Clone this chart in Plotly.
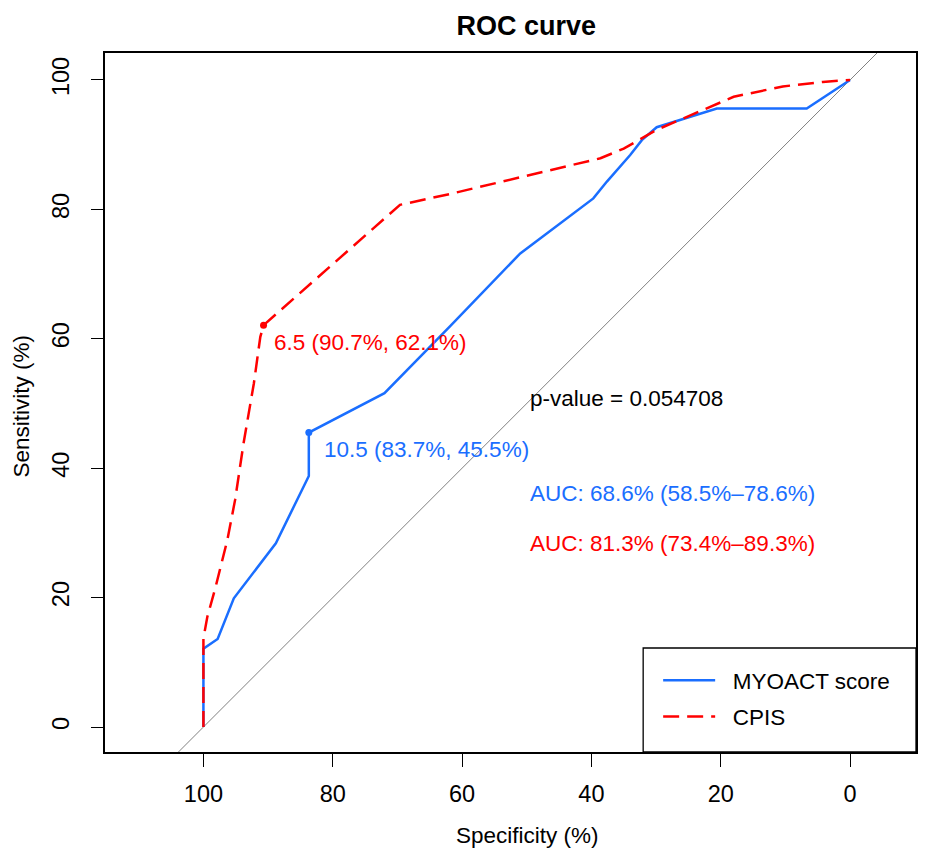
import plotly.graph_objects as go

# ---- data ----
myoact_spec = [100, 100, 97.8, 95.3, 88.8, 83.7, 83.7, 72.0, 61.8, 51.0, 39.7, 37.6, 34.0, 32.2, 29.9, 20.6, 6.7, 0]
myoact_sens = [0, 12.1, 13.6, 19.9, 28.4, 38.8, 45.5, 51.6, 62.0, 73.2, 81.7, 84.3, 88.4, 90.7, 92.7, 95.6, 95.6, 100]

cpis_spec = [100, 100, 99.4, 98.1, 96.3, 95.1, 93.8, 92.2, 91.2, 90.7, 69.6, 61.8, 38.6, 35.0, 29.9, 18.0, 10.4, 4.2, 0]
cpis_sens = [0, 13.7, 17.0, 21.7, 28.9, 35.1, 43.8, 53.1, 60.3, 62.1, 80.7, 82.4, 87.9, 89.4, 92.3, 97.4, 99.0, 99.7, 100]

myoact_thr = {"spec": 83.7, "sens": 45.5, "label": "10.5 (83.7%, 45.5%)"}
cpis_thr = {"spec": 90.7, "sens": 62.1, "label": "6.5 (90.7%, 62.1%)"}

auc_myoact = "AUC: 68.6% (58.5%–78.6%)"
auc_cpis = "AUC: 81.3% (73.4%–89.3%)"
p_value = "p-value = 0.054708"

series_names = ["MYOACT score", "CPIS"]

tick_vals = [0, 20, 40, 60, 80, 100]
tick_text = ["0", "20", "40", "60", "80", "100"]

BLUE = "#1A6EFF"
RED = "#FF0000"
FONT = "Liberation Sans, Arial, sans-serif"

# ---- geometry (pixels) ----
W, H = 936, 849
L, R, T, B = 104.5, 916, 53, 752
PW, PH = R - L, B - T


def px_x(x):
    return (x - L) / PW


def px_y(y):
    return (B - y) / PH


fig = go.Figure()

# identity line
fig.add_trace(go.Scatter(x=[120, -20], y=[-20, 120], mode="lines",
                         line=dict(color="#808080", width=1), showlegend=False, hoverinfo="skip"))

pad = "\u00a0\u00a0"
fig.add_trace(go.Scatter(x=myoact_spec, y=myoact_sens, mode="lines", name=pad + series_names[0],
                         line=dict(color=BLUE, width=2.5), legendgroup="a"))
fig.add_trace(go.Scatter(x=cpis_spec, y=cpis_sens, mode="lines", name=pad + series_names[1],
                         line=dict(color=RED, width=2.5, dash="16px,8px"), legendgroup="b"))

fig.add_trace(go.Scatter(x=[myoact_thr["spec"]], y=[myoact_thr["sens"]], mode="markers",
                         marker=dict(color=BLUE, size=7), showlegend=False))
fig.add_trace(go.Scatter(x=[cpis_thr["spec"]], y=[cpis_thr["sens"]], mode="markers",
                         marker=dict(color=RED, size=7), showlegend=False))

ann_font = 22.5
tick_font = 23.5
annotations = [
    dict(x=89.33, y=59.5, text=cpis_thr["label"], font=dict(color=RED, size=ann_font, family=FONT)),
    dict(x=81.65, y=42.86, text=myoact_thr["label"], font=dict(color=BLUE, size=ann_font, family=FONT)),
    dict(x=49.88, y=50.7, text=p_value, font=dict(color="black", size=ann_font, family=FONT)),
    dict(x=49.75, y=36.1, text=auc_myoact, font=dict(color=BLUE, size=ann_font, family=FONT)),
    dict(x=49.75, y=28.4, text=auc_cpis, font=dict(color=RED, size=ann_font, family=FONT)),
]
for a in annotations:
    a.update(xref="x", yref="y", xanchor="left", yanchor="middle", showarrow=False)

# axis titles
annotations.append(dict(xref="paper", yref="paper", x=px_x(527), y=px_y(835), text="Specificity (%)",
                        showarrow=False, xanchor="center", yanchor="middle",
                        font=dict(size=ann_font, family=FONT, color="black")))
annotations.append(dict(xref="paper", yref="paper", x=px_x(20), y=px_y(406), text="Sensitivity (%)",
                        showarrow=False, xanchor="center", yanchor="middle", textangle=-90,
                        font=dict(size=ann_font, family=FONT, color="black")))

fig.update_layout(
    width=W, height=H,
    margin=dict(l=L, r=W - R, t=T, b=H - B, pad=0),
    paper_bgcolor="white", plot_bgcolor="white",
    font=dict(family=FONT, size=ann_font, color="black"),
    title=dict(text="<b>ROC curve</b>", x=px_x(526), xref="paper", xanchor="center",
               y=1 - 26 / H, yanchor="middle", font=dict(size=27, family=FONT, color="black")),
    xaxis=dict(range=[115.22, -10.2], tickvals=tick_vals, ticktext=tick_text, ticks="outside",
               ticklen=13, tickwidth=1.3, tickcolor="black", showline=True, linecolor="black",
               linewidth=1.5, mirror=True, showgrid=False, zeroline=False,
               tickfont=dict(size=tick_font, family=FONT, color="black"), ticklabelstandoff=7),
    yaxis=dict(range=[-3.86, 104.17], tickvals=tick_vals, ticktext=tick_text, ticks="outside",
               ticklen=12, tickwidth=1.3, tickcolor="black", showline=True, linecolor="black",
               linewidth=1.5, mirror=True, showgrid=False, zeroline=False, tickangle=-90,
               tickfont=dict(size=tick_font, family=FONT, color="black"), ticklabelstandoff=13),
    showlegend=True,
    legend=dict(x=px_x(658), y=px_y(659), xanchor="left", yanchor="top", bgcolor="rgba(0,0,0,0)",
                borderwidth=0, font=dict(size=ann_font, family=FONT, color="black"),
                itemwidth=52, tracegroupgap=4, traceorder="grouped"),
    shapes=[dict(type="rect", xref="paper", yref="paper", x0=px_x(643), x1=1, y0=0, y1=px_y(648),
                 line=dict(color="black", width=1.3), fillcolor="white", layer="below")],
    annotations=annotations,
)

fig.write_html("out.html")
